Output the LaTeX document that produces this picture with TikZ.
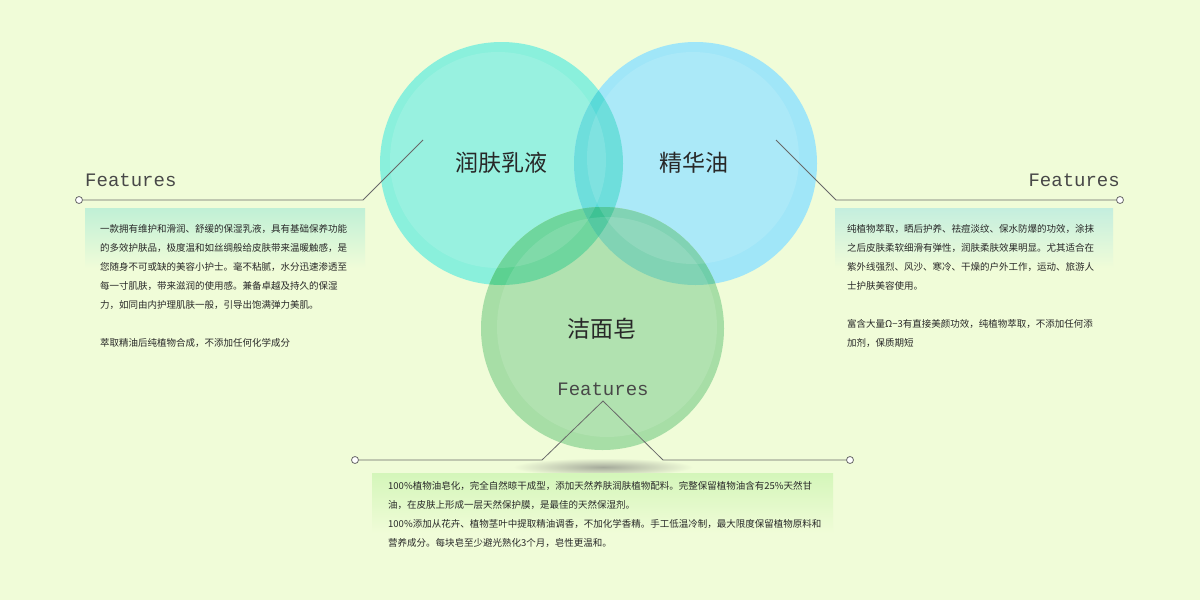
\documentclass[tikz,border=0pt]{standalone}
\usepackage{fontspec}
\setmainfont{Noto Sans CJK SC}
\newfontfamily\monof{Liberation Mono}
\definecolor{bgc}{RGB}{240,252,216}
\definecolor{cteal}{RGB}{138,240,220}
\definecolor{cblue}{RGB}{160,230,248}
\definecolor{cgreen}{RGB}{167,222,166}
\definecolor{ctb}{RGB}{90,218,216}
\definecolor{ctg}{RGB}{92,209,145}
\definecolor{cbgr}{RGB}{112,206,170}
\definecolor{ctbg}{RGB}{62,194,148}
\definecolor{linec}{RGB}{105,105,105}
\definecolor{txt}{RGB}{40,40,40}
\definecolor{shad}{RGB}{165,170,155}
\definecolor{boxl}{RGB}{192,240,214}
\definecolor{boxr}{RGB}{196,238,222}
\definecolor{boxb}{RGB}{212,246,186}
\tikzset{
  conn/.style={draw=linec, line width=0.8pt},
  marker/.style={circle, draw=linec, fill=white, line width=0.8pt, inner sep=0pt, minimum size=7pt},
  feat/.style={font=\monof\fontsize{19}{19}\selectfont, text=txt!85, inner sep=0pt},
  title/.style={font=\fontsize{23}{23}\selectfont, text=txt, inner sep=0pt},
  para/.style={font=\fontsize{9.5}{19}\selectfont, text=txt, inner sep=0pt, align=left, anchor=north west},
  gloss/.style={fill=white, fill opacity=0.12}
}
\begin{document}
\begin{tikzpicture}[x=1pt,y=-1pt]
\fill[bgc] (0,0) rectangle (1200,600);
\useasboundingbox (0,0) rectangle (1200,600);
% shadow
\shade[inner color=shad, outer color=bgc] (603,467) ellipse [x radius=90pt, y radius=9pt];
% circles
\coordinate (cT) at (501.5,163.5);
\coordinate (cB) at (695.5,163.5);
\coordinate (cG) at (602.5,328.5);
\fill[cteal] (cT) circle[radius=121.5pt];
\fill[cblue] (cB) circle[radius=121.5pt];
\fill[cgreen] (cG) circle[radius=121.5pt];
\begin{scope}
  \clip (cT) circle[radius=121.5pt];
  \fill[ctb] (cB) circle[radius=121.5pt];
  \fill[ctg] (cG) circle[radius=121.5pt];
\end{scope}
\begin{scope}
  \clip (cB) circle[radius=121.5pt];
  \fill[cbgr] (cG) circle[radius=121.5pt];
  \clip (cT) circle[radius=121.5pt];
  \fill[ctbg] (cG) circle[radius=121.5pt];
\end{scope}
% gloss
\fill[gloss] (498,160) circle[radius=108pt];
\fill[gloss] (693,158) circle[radius=106pt];
\fill[gloss] (607,327) circle[radius=110pt];
% titles
\node[title] (tT) at (501,163) {润肤乳液};
\node[title] (tB) at (694,163) {精华油};
\node[title] (tG) at (602,329) {洁面皂};
% features
\node[feat, anchor=base west] (fL) at (85,186) {Features};
\node[feat, anchor=base east] (fR) at (1120,186) {Features};
\node[feat, anchor=base] (fB) at (603,395) {Features};
% connectors
\coordinate (lk) at (363,200);
\coordinate (lt) at (423,140);
\coordinate (rk) at (836,200);
\coordinate (rt) at (776,140);
\coordinate (bp) at (603,401);
\coordinate (bl) at (542,460);
\coordinate (br) at (663,460);
\node[marker] (ml) at (79,200) {};
\node[marker] (mr) at (1120,200) {};
\node[marker] (mbl) at (355,460) {};
\node[marker] (mbr) at (850,460) {};
\draw[conn] (ml) -- (lk) -- (lt);
\draw[conn] (rt) -- (rk) -- (mr);
\draw[conn] (mbl) -- (bl) -- (bp) -- (br) -- (mbr);
% boxes
\shade[top color=boxl, bottom color=bgc] (85,208) rectangle (365,268);
\shade[top color=boxr, bottom color=bgc] (835,208) rectangle (1113,268);
\shade[top color=boxb, bottom color=bgc] (372,473) rectangle (833,533);
% paragraphs
\node[para] (pL) at (100,224) {一款拥有维护和滑润、舒缓的保湿乳液，具有基础保养功能\\
的多效护肤品，极度温和如丝绸般给皮肤带来温暖触感，是\\
您随身不可或缺的美容小护士。毫不粘腻，水分迅速渗透至\\
每一寸肌肤，带来滋润的使用感。兼备卓越及持久的保湿\\
力，如同由内护理肌肤一般，引导出饱满弹力美肌。\\[19pt]
萃取精油后纯植物合成，不添加任何化学成分};
\node[para] (pR) at (847,224) {纯植物萃取，晒后护养、祛痘淡纹、保水防爆的功效，涂抹\\
之后皮肤柔软细滑有弹性，润肤柔肤效果明显。尤其适合在\\
紫外线强烈、风沙、寒冷、干燥的户外工作，运动、旅游人\\
士护肤美容使用。\\[19pt]
富含大量Ω−3有直接美颜功效，纯植物萃取，不添加任何添\\
加剂，保质期短};
\node[para] (pB) at (388,481) {100\%植物油皂化，完全自然晾干成型，添加天然养肤润肤植物配料。完整保留植物油含有25\%天然甘\\
油，在皮肤上形成一层天然保护膜，是最佳的天然保湿剂。\\
100\%添加从花卉、植物茎叶中提取精油调香，不加化学香精。手工低温冷制，最大限度保留植物原料和\\
营养成分。每块皂至少避光熟化3个月，皂性更温和。};
\end{tikzpicture}
\end{document}
